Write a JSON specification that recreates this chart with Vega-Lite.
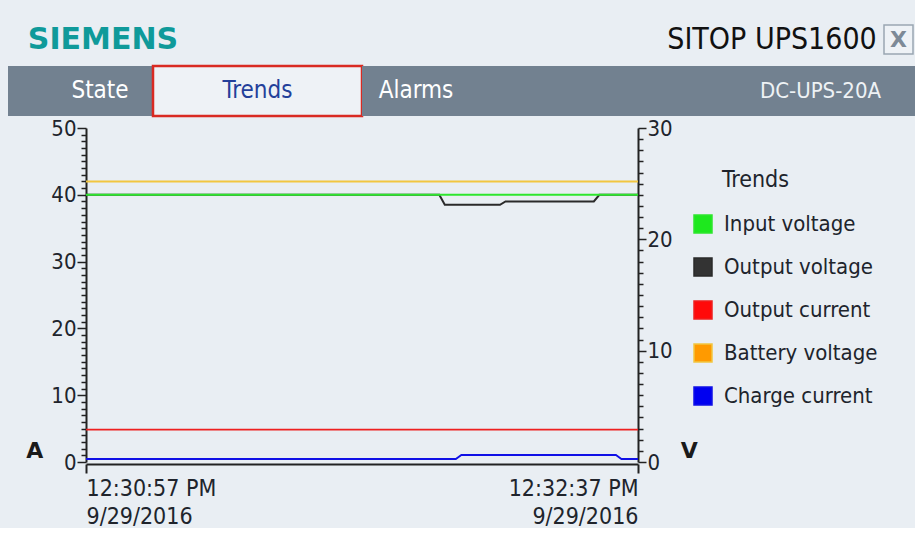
{
  "$schema": "https://vega.github.io/schema/vega-lite/v6.json",
  "background": "#e9eef3",
  "padding": {"left": 8, "top": 14, "right": 0, "bottom": 0},
  "spacing": -1,
  "config": {
    "view": {"stroke": null},
    "font": "DejaVu Sans Condensed",
    "text": {"font": "DejaVu Sans Condensed"}
  },
  "vconcat": [
    {
      "spacing": 0,
      "bounds": "flush",
      "center": true,
      "hconcat": [
        {"width": 190, "height": 51, "view": {"stroke": null}, "data": {"values": [{"label": "SIEMENS"}]},
         "mark": {"type": "text", "font": "DejaVu Sans", "fontWeight": "bold", "fontSize": 30, "color": "#0f9a9a"},
         "encoding": {"text": {"field": "label"}}},
        {"width": 469, "height": 51, "view": {"stroke": null}, "data": {"values": [{"label": ""}]},
         "mark": {"type": "text"}, "encoding": {"text": {"field": "label"}}},
        {"width": 210, "height": 51, "view": {"stroke": null}, "data": {"values": [{"label": "SITOP UPS1600"}]},
         "mark": {"type": "text", "fontSize": 30, "color": "#111111"},
         "encoding": {"text": {"field": "label"}}},
        {"width": 7, "height": 51, "view": {"stroke": null}, "data": {"values": [{"label": ""}]},
         "mark": {"type": "text"}, "encoding": {"text": {"field": "label"}}},
        {"width": 29, "height": 29, "view": {"stroke": "#9aa6b2", "strokeWidth": 1.5, "fill": "#eef2f6"}, "data": {"values": [{"label": "X"}]},
         "mark": {"type": "text", "font": "DejaVu Sans", "fontWeight": "bold", "fontSize": 22, "color": "#7d8a97"},
         "encoding": {"text": {"field": "label"}}}
      ]
    },
    {
      "spacing": 0,
      "bounds": "flush",
      "hconcat": [
        {"width": 39, "height": 50, "view": {"stroke": null, "fill": "#728190"}, "data": {"values": [{"label": ""}]},
         "mark": {"type": "text"}, "encoding": {"text": {"field": "label"}}},
        {"width": 106, "height": 50, "view": {"stroke": null, "fill": "#728190"}, "data": {"values": [{"label": "State"}]},
         "mark": {"type": "text", "fontSize": 24, "color": "#ffffff"}, "encoding": {"text": {"field": "label"}}},
        {"width": 209, "height": 50, "view": {"stroke": "#d92a22", "strokeWidth": 2.5, "fill": "#eef2f6"}, "data": {"values": [{"label": "Trends"}]},
         "mark": {"type": "text", "fontSize": 24, "color": "#23409a"}, "encoding": {"text": {"field": "label"}}},
        {"width": 108, "height": 50, "view": {"stroke": null, "fill": "#728190"}, "data": {"values": [{"label": "Alarms"}]},
         "mark": {"type": "text", "fontSize": 24, "color": "#ffffff"}, "encoding": {"text": {"field": "label"}}},
        {"width": 287, "height": 50, "view": {"stroke": null, "fill": "#728190"}, "data": {"values": [{"label": ""}]},
         "mark": {"type": "text"}, "encoding": {"text": {"field": "label"}}},
        {"width": 127, "height": 50, "view": {"stroke": null, "fill": "#728190"}, "data": {"values": [{"label": "DC-UPS-20A"}]},
         "mark": {"type": "text", "fontSize": 22, "color": "#eef2f5"}, "encoding": {"text": {"field": "label"}}},
        {"width": 31, "height": 50, "view": {"stroke": null, "fill": "#728190"}, "data": {"values": [{"label": ""}]},
         "mark": {"type": "text"}, "encoding": {"text": {"field": "label"}}}
      ]
    },
    {
      "spacing": 0,
      "bounds": "flush",
      "hconcat": [
        {"width": 78, "height": 334, "view": {"stroke": null}, "data": {"values": [{"label": ""}]},
         "mark": {"type": "text"}, "encoding": {"text": {"field": "label"}}},
        {
          "width": 552,
          "height": 334,
          "view": {"stroke": null},
          "data": {"values": [
            {"t": "2016-09-29T12:30:57", "s": "Output voltage", "u": "V", "v": 24.0},
            {"t": "2016-09-29T12:32:01", "s": "Output voltage", "u": "V", "v": 24.0},
            {"t": "2016-09-29T12:32:02", "s": "Output voltage", "u": "V", "v": 23.1},
            {"t": "2016-09-29T12:32:12", "s": "Output voltage", "u": "V", "v": 23.1},
            {"t": "2016-09-29T12:32:13", "s": "Output voltage", "u": "V", "v": 23.4},
            {"t": "2016-09-29T12:32:29", "s": "Output voltage", "u": "V", "v": 23.4},
            {"t": "2016-09-29T12:32:30", "s": "Output voltage", "u": "V", "v": 24.0},
            {"t": "2016-09-29T12:32:37", "s": "Output voltage", "u": "V", "v": 24.0},
            {"t": "2016-09-29T12:30:57", "s": "Input voltage", "u": "V", "v": 24.0},
            {"t": "2016-09-29T12:32:37", "s": "Input voltage", "u": "V", "v": 24.0},
            {"t": "2016-09-29T12:30:57", "s": "Battery voltage", "u": "V", "v": 25.2},
            {"t": "2016-09-29T12:32:37", "s": "Battery voltage", "u": "V", "v": 25.2},
            {"t": "2016-09-29T12:30:57", "s": "Output current", "u": "A", "v": 4.85},
            {"t": "2016-09-29T12:32:37", "s": "Output current", "u": "A", "v": 4.85},
            {"t": "2016-09-29T12:30:57", "s": "Charge current", "u": "A", "v": 0.45},
            {"t": "2016-09-29T12:32:04", "s": "Charge current", "u": "A", "v": 0.45},
            {"t": "2016-09-29T12:32:05", "s": "Charge current", "u": "A", "v": 1.05},
            {"t": "2016-09-29T12:32:33", "s": "Charge current", "u": "A", "v": 1.05},
            {"t": "2016-09-29T12:32:34", "s": "Charge current", "u": "A", "v": 0.45},
            {"t": "2016-09-29T12:32:37", "s": "Charge current", "u": "A", "v": 0.45}
          ]},
          "encoding": {
            "x": {
              "field": "t", "type": "temporal",
              "scale": {"domain": [
                {"year": 2016, "month": 9, "date": 29, "hours": 12, "minutes": 30, "seconds": 57},
                {"year": 2016, "month": 9, "date": 29, "hours": 12, "minutes": 32, "seconds": 37}
              ], "nice": false},
              "axis": {
                "title": null, "grid": false, "offset": 2,
                "values": [
                  {"year": 2016, "month": 9, "date": 29, "hours": 12, "minutes": 30, "seconds": 57},
                  {"year": 2016, "month": 9, "date": 29, "hours": 12, "minutes": 32, "seconds": 37}
                ],
                "labelExpr": "[timeFormat(datum.value, '%-I:%M:%S %p'), timeFormat(datum.value, '%-m/%-d/%Y')]",
                "labelFlush": true, "labelFontSize": 23, "labelLineHeight": 28, "labelPadding": 4,
                "labelColor": "#20242c", "labelFont": "DejaVu Sans Condensed",
                "domainColor": "#222222", "domainWidth": 2, "tickColor": "#222222", "tickWidth": 2, "tickSize": 9
              }
            },
            "color": {
              "field": "s", "type": "nominal",
              "scale": {
                "domain": ["Input voltage", "Output voltage", "Output current", "Battery voltage", "Charge current"],
                "range": ["#2ee62e", "#2a2a2a", "#ee2020", "#f2c640", "#1010e6"]
              },
              "legend": {
                "orient": "none", "legendX": 684, "legendY": 155,
                "title": "Trends", "titleFontSize": 23, "titleFont": "DejaVu Sans Condensed", "titleFontWeight": "normal",
                "titleColor": "#20242c", "titlePadding": 21,
                "labelFontSize": 22, "labelFont": "DejaVu Sans Condensed", "labelColor": "#20242c", "labelOffset": 10,
                "symbolType": "square", "symbolSize": 324, "symbolStrokeWidth": 1.5, "symbolStrokeColor": "#1a1a1a", "rowPadding": 19,
                "encode": {
                  "title": {"update": {"dx": {"value": 30}}},
                  "symbols": {"update": {
                    "fill": {"signal": "datum.value === 'Battery voltage' ? '#ff9a00' : datum.value === 'Input voltage' ? '#1ee81e' : datum.value === 'Output current' ? '#ff0a0a' : datum.value === 'Charge current' ? '#0000f0' : '#333333'"},
                    "stroke": {"value": "#1a1a1a"},
                    "strokeWidth": {"value": 1.5},
                    "opacity": {"value": 1}
                  }}
                }
              }
            }
          },
          "layer": [
            {
              "transform": [{"filter": "datum.u === 'A'"}],
              "mark": {"type": "line", "strokeWidth": 1.8},
              "encoding": {
                "y": {
                  "field": "v", "type": "quantitative",
                  "scale": {"domain": [0, 50], "nice": false},
                  "axis": {
                    "orient": "left", "grid": false,
                    "values": [0,1,2,3,4,5,6,7,8,9,10,11,12,13,14,15,16,17,18,19,20,21,22,23,24,25,26,27,28,29,30,31,32,33,34,35,36,37,38,39,40,41,42,43,44,45,46,47,48,49,50],
                    "labelExpr": "datum.value % 10 === 0 ? datum.label : ''",
                    "tickSize": {"condition": {"test": "datum.value % 10 === 0", "value": 9}, "value": 5},
                    "tickColor": "#222222", "tickWidth": 1.5,
                    "domainColor": "#222222", "domainWidth": 2,
                    "labelFontSize": 22, "labelFont": "DejaVu Sans Condensed", "labelColor": "#20242c", "labelPadding": 1,
                    "title": "A", "titleAngle": 0, "titleAnchor": "start", "titleBaseline": "bottom", "titleAlign": "right",
                    "titleFont": "DejaVu Sans", "titleFontWeight": "bold", "titleFontSize": 22, "titleColor": "#1a1a1a", "titlePadding": 8
                  }
                }
              }
            },
            {
              "transform": [{"filter": "datum.u === 'V'"}],
              "mark": {"type": "line", "strokeWidth": 2},
              "encoding": {
                "y": {
                  "field": "v", "type": "quantitative",
                  "scale": {"domain": [0, 30], "nice": false},
                  "axis": {
                    "orient": "right", "grid": false,
                    "values": [0,1,2,3,4,5,6,7,8,9,10,11,12,13,14,15,16,17,18,19,20,21,22,23,24,25,26,27,28,29,30],
                    "labelExpr": "datum.value % 10 === 0 ? datum.label : ''",
                    "tickSize": {"condition": {"test": "datum.value % 10 === 0", "value": 8}, "value": 5},
                    "tickColor": "#222222", "tickWidth": 1.5,
                    "domainColor": "#222222", "domainWidth": 2,
                    "labelFontSize": 22, "labelFont": "DejaVu Sans Condensed", "labelColor": "#20242c", "labelPadding": 1,
                    "title": "V", "titleAngle": 0, "titleAnchor": "start", "titleBaseline": "bottom", "titleAlign": "left",
                    "titleFont": "DejaVu Sans", "titleFontWeight": "bold", "titleFontSize": 22, "titleColor": "#1a1a1a", "titlePadding": 8
                  }
                }
              }
            }
          ],
          "resolve": {"scale": {"y": "independent"}}
        }
      ]
    }
  ]
}
